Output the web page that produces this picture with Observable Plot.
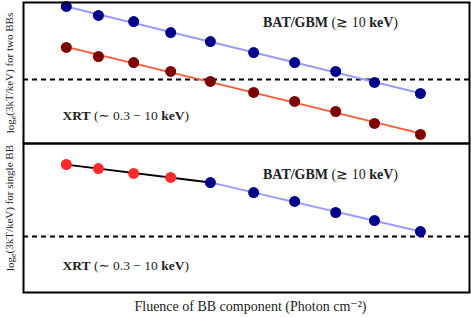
<!DOCTYPE html>
<html><head><meta charset="utf-8">
<script src="https://cdn.jsdelivr.net/npm/d3@7"></script>
<script src="https://cdn.jsdelivr.net/npm/@observablehq/plot@0.6"></script>
<style>
body{margin:0;background:#fff}
#chart{width:471px;height:317px;overflow:hidden}
#chart svg{display:block;background:transparent;max-width:none}
</style>
</head><body><div id="chart"></div>
<script>
// Fluence of BB component (arbitrary units, no ticks shown)
const fluence = [9.6, 16.8, 24.7, 33.0, 41.9, 51.6, 60.8, 70.0, 78.7, 89.0];
// Top panel: two BBs — log_e(3kT/keV), arbitrary units
const twoBBHard = [97.2, 90.8, 86.5, 78.7, 72.3, 64.5, 57.4, 51.1, 43.3, 35.5]; // BAT/GBM
const twoBBSoft = [68.1, 61.7, 57.4, 51.1, 44.0, 36.2, 29.8, 22.7, 14.2, 6.4];  // XRT
const twoBBThreshold = 45.4;
// Bottom panel: single BB
const singleBB = [85.9, 83.2, 79.9, 77.2, 73.8, 67.1, 61.1, 53.7, 48.3, 40.9];
const singleBBInXRT = 4; // first points lie in XRT band
const singleBBThreshold = 37.6;
// Labels
const batLabel = [["BAT/GBM", true], [" (≳ 10 ", false], ["keV", true], [")", false]];
const xrtLabel = [["XRT", true], [" (∼ 0.3 − 10 ", false], ["keV", true], [")", false]];
const yLabelTwo = "for two BBs";
const yLabelSingle = "for single BB";
const xLabel = "Fluence of BB component (Photon cm⁻²)";

const FONT = "'Liberation Serif', 'DejaVu Serif', serif";
const colors = {hardDot: "#00008b", hardLine: "#9a9aff", softDot: "#7d0000", softLine: "#ff5a36", xrtDot: "#ff2b2b", fitLine: "#000"};

const join = segs => segs.map(s => s[0]).join("");
const two = fluence.map((f, i) => ({f, hard: twoBBHard[i], soft: twoBBSoft[i]}));
const single = fluence.map((f, i) => ({f, v: singleBB[i], i}));
const singleLow = single.filter(d => d.i <= singleBBInXRT);
const singleHigh = single.filter(d => d.i >= singleBBInXRT);

const common = {
  width: 471, marginLeft: 23, marginRight: 2,
  x: {domain: [0, 100], axis: null},
  y: {domain: [0, 100], axis: null},
  style: {fontFamily: FONT, background: "transparent", overflow: "visible"}
};

function panelLabels(yLab, batDy, xrtDy, yDy) {
  return [
    Plot.text([join(batLabel)], {frameAnchor: "top", dx: 84, dy: batDy, fontSize: 14, textAnchor: "middle", fill: "#222"}),
    Plot.text([join(xrtLabel)], {frameAnchor: "bottom-left", dx: 39, dy: xrtDy, fontSize: 13.5, textAnchor: "start", fill: "#222"}),
    Plot.text(["log" + "e" + "(3kT/keV) " + yLab], {frameAnchor: "left", rotate: -90, textAnchor: "middle", dx: -13, dy: yDy, fontSize: 11, fill: "#222"})
  ];
}

const topPlot = Plot.plot({
  ...common, height: 145, marginTop: 2, marginBottom: 2,
  marks: [
    Plot.ruleY([twoBBThreshold], {stroke: "#000", strokeWidth: 2, strokeDasharray: "5,4"}),
    Plot.linearRegressionY(two, {x: "f", y: "hard", stroke: colors.hardLine, strokeWidth: 2, ci: 0}),
    Plot.linearRegressionY(two, {x: "f", y: "soft", stroke: colors.softLine, strokeWidth: 2, ci: 0}),
    Plot.dot(two, {x: "f", y: "hard", r: 5.5, fill: colors.hardDot}),
    Plot.dot(two, {x: "f", y: "soft", r: 5.5, fill: colors.softDot}),
    ...panelLabels(yLabelTwo, 15, -24, 0),
    Plot.frame({stroke: "#000", strokeWidth: 2})
  ]
});

const bottomPlot = Plot.plot({
  ...common, height: 174, marginTop: 0, marginBottom: 25,
  marks: [
    Plot.ruleY([singleBBThreshold], {stroke: "#000", strokeWidth: 2, strokeDasharray: "5,4"}),
    Plot.linearRegressionY(singleLow, {x: "f", y: "v", stroke: colors.fitLine, strokeWidth: 2, ci: 0}),
    Plot.linearRegressionY(singleHigh, {x: "f", y: "v", stroke: colors.hardLine, strokeWidth: 2, ci: 0}),
    Plot.dot(single, {x: "f", y: "v", r: 5.5, fill: d => d.i < singleBBInXRT ? colors.xrtDot : colors.hardDot}),
    ...panelLabels(yLabelSingle, 26, -23, -10),
    Plot.text([xLabel], {frameAnchor: "bottom", dx: 4, dy: 18, fontSize: 14, fill: "#222"}),
    Plot.frame({stroke: "#000", strokeWidth: 2})
  ]
});
bottomPlot.style.marginTop = "-2px";

// Rich text: bold segments and subscript
function richify(svg) {
  d3.select(svg).selectAll("text").each(function() {
    const t = this.textContent;
    const el = d3.select(this);
    let segs = null;
    if (t === join(batLabel)) segs = batLabel;
    else if (t === join(xrtLabel)) segs = xrtLabel;
    if (segs) {
      el.text(null);
      segs.forEach(([s, b]) => el.append("tspan").attr("font-weight", b ? "bold" : "normal").text(s));
    } else if (t.startsWith("loge(")) {
      el.text(null);
      el.append("tspan").text("log");
      el.append("tspan").attr("font-size", "0.7em").attr("dy", "0.25em").text("e");
      el.append("tspan").attr("dy", "-0.25em").text(t.slice(4));
    }
  });
}
richify(topPlot); richify(bottomPlot);
document.getElementById("chart").append(topPlot, bottomPlot);
</script>
</body></html>
